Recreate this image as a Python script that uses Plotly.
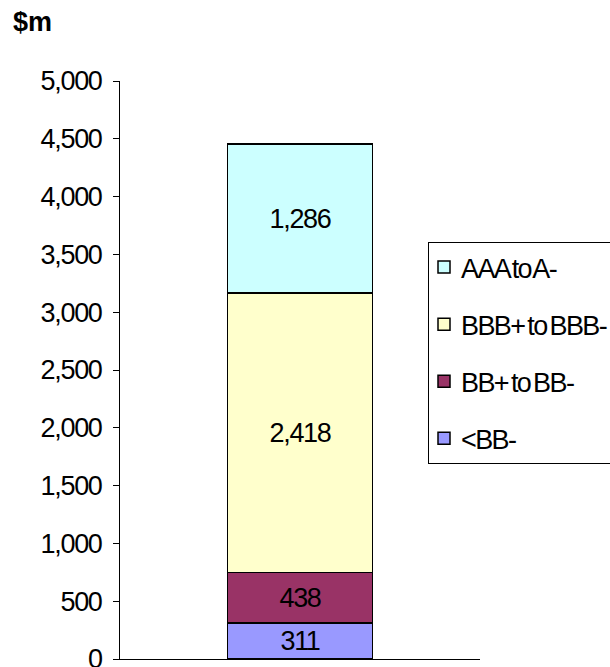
import plotly.graph_objects as go

# Rating bands, bottom to top of the stack
categories = [""]
bands = ["<BB-", "BB+ to BB-", "BBB+ to BBB-", "AAA to A-"]
values = [311, 438, 2418, 1286]
colors = ["#9999FF", "#993366", "#FFFFCC", "#CCFFFF"]
y_ticks = [0, 500, 1000, 1500, 2000, 2500, 3000, 3500, 4000, 4500, 5000]

FONT = "Liberation Sans, Arial, sans-serif"
FS = 27

fig = go.Figure()
for i, (name, v, c) in enumerate(zip(bands, values, colors)):
    fig.add_trace(go.Bar(
        x=categories, y=[v], name=name,
        marker=dict(color=c, line=dict(color="black", width=1.5)),
        text=[f"{v:,}"], textposition="inside", insidetextanchor="middle",
        textangle=0, textfont=dict(family=FONT, size=FS, color="black"),
        width=0.403, legendgroup=name, legendrank=1000 - i,
    ))

fig.update_layout(
    width=610, height=667,
    margin=dict(l=120, r=130, t=81, b=8, autoexpand=False),
    barmode="stack",
    paper_bgcolor="white", plot_bgcolor="white",
    font=dict(family=FONT, size=FS, color="black"),
    uniformtext=dict(minsize=FS, mode="show"),
    showlegend=True,
    legend=dict(
        x=(428 - 120) / 360, y=(659 - 242) / 578, xanchor="left", yanchor="top",
        traceorder="grouped", tracegroupgap=19, itemwidth=30,
        bordercolor="black", borderwidth=1, bgcolor="white",
        font=dict(family=FONT, size=FS, color="black"),
    ),
    xaxis=dict(
        range=[-0.5, 0.5], showline=True, linecolor="black", linewidth=1,
        showticklabels=False, ticks="", showgrid=False, zeroline=False,
    ),
    yaxis=dict(
        range=[0, 5000], tickvals=y_ticks, tickformat=",",
        showline=True, linecolor="black", linewidth=1,
        ticks="outside", ticklen=6, tickcolor="black", tickwidth=1,
        ticklabelstandoff=6, ticklabeloverflow="allow",
        showgrid=False, zeroline=False,
        tickfont=dict(family=FONT, size=FS, color="black"),
    ),
    annotations=[dict(
        text="<b>$m</b>", xref="paper", yref="paper",
        x=-109 / 360, y=(659 - 5) / 578, xanchor="left", yanchor="top",
        showarrow=False,
        font=dict(family=FONT, size=27, color="black"),
    )],
)

# Tight, condensed lettering for tick labels, bar labels and legend entries;
# legend swatches and labels sit a little closer to the left border
condense = """
var gd = document.getElementById('{plot_id}');
gd.querySelectorAll('.ytick text, .bartext').forEach(function (t) {
    t.style.letterSpacing = '-1.3px';
});
gd.querySelectorAll('.legendtext').forEach(function (t) {
    t.style.letterSpacing = '-1.6px';
    t.style.wordSpacing = '-3px';
    t.setAttribute('x', parseFloat(t.getAttribute('x') || 0) - 8);
});
gd.querySelectorAll('.legendsymbols').forEach(function (g) {
    g.setAttribute('transform', 'translate(-5,0)');
});
"""

fig.write_html("out.html", post_script=condense)
